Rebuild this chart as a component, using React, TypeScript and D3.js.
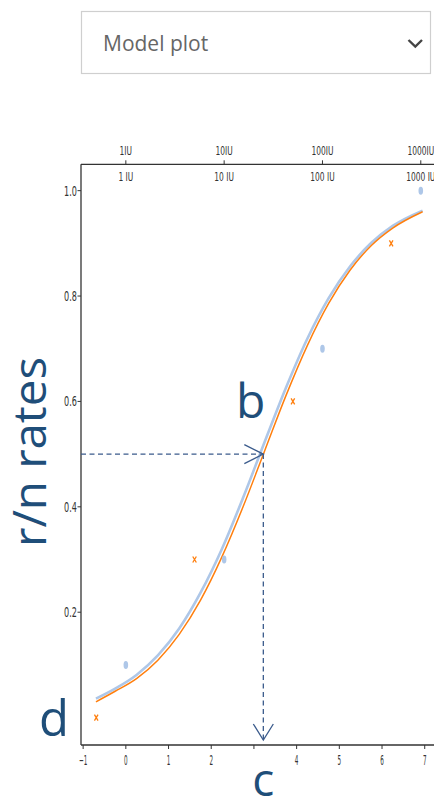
import React from "react";
import * as d3 from "d3";

// Fitted dose-response curves, sampled along ln(dose)
const curveX = [-0.7, -0.25, 0.25, 0.75, 1.25, 1.75, 2.25, 2.75, 3.25, 3.75, 4.25, 4.75, 5.25, 5.75, 6.25, 6.95];
const orangeFit = [0.03, 0.05, 0.074, 0.109, 0.158, 0.223, 0.305, 0.401, 0.506, 0.611, 0.706, 0.786, 0.849, 0.896, 0.929, 0.96];
const blueFit = [0.036, 0.055, 0.081, 0.118, 0.169, 0.237, 0.32, 0.418, 0.523, 0.626, 0.719, 0.796, 0.856, 0.901, 0.933, 0.962];

// Observed response rates (r/n) per dose
const blueDoses = [1, 10, 100, 1000];
const blueRates = [0.1, 0.3, 0.7, 1.0];
const orangeDoses = [0.5, 5, 50, 500];
const orangeRates = [0.0, 0.3, 0.6, 0.9];

// Axes
const xTicks = [-1, 0, 1, 2, 3, 4, 5, 6, 7];
const xTickLabels = ["\u22121", "0", "1", "2", "", "4", "5", "6", "7"];
const yTicks = [0.2, 0.4, 0.6, 0.8, 1.0];
const yTickLabels = ["0.2", "0.4", "0.6", "0.8", "1.0"];
const unitDoses = [1, 10, 100, 1000];
const unitLabelsOuter = ["1IU", "10IU", "100IU", "1000IU"];
const unitLabelsInner = ["1 IU", "10 IU", "100 IU", "1000 IU"];

// Inflection point (c, 50% rate)
const midpointX = 3.22;
const midpointY = 0.5;

const W = 434;
const H = 800;
const ANNOT = "#1f4e79";
const DASH = "#3b5b8c";
const AXIS = "#333";
const TICKFONT = "DejaVu Sans";

export default function App() {
  const x = d3.scaleLinear().domain([-1.05, 7.25]).range([81, 435.4]);
  const y = d3.scaleLinear().domain([-0.052, 1.05]).range([745, 164.3]);

  const line = d3
    .line<number>()
    .x((_, i) => x(curveX[i]))
    .y((v) => y(v))
    .curve(d3.curveMonotoneX);

  const left = x.range()[0];
  const top = y.range()[1];
  const bottom = y.range()[0];
  const mx = x(midpointX);
  const my = y(midpointY);

  return (
    <svg
      width={W}
      height={H}
      style={{ position: "absolute", left: 0, top: 0, background: "#fff" }}
    >
      {/* dropdown */}
      <rect x={81.5} y={11.5} width={349} height={62} fill="#fff" stroke="#cfcfcf" strokeWidth={1.2} />
      <text x={103} y={51} fontFamily="Open Sans" fontSize={21} fill="#666">
        Model plot
      </text>
      <path d="M408.5,40 L415.3,46.5 L422,40" fill="none" stroke="#444" strokeWidth={2.4} />

      {/* spines */}
      <line x1={left} x2={W} y1={top} y2={top} stroke={AXIS} strokeWidth={1.3} />
      <line x1={left} x2={W} y1={bottom} y2={bottom} stroke={AXIS} strokeWidth={1.3} />
      <line x1={left} x2={left} y1={top} y2={bottom} stroke={AXIS} strokeWidth={1.3} />

      {/* bottom axis: ln(dose) */}
      {xTicks.map((t, i) => (
        <g key={"xt" + i}>
          <line x1={x(t)} x2={x(t)} y1={bottom} y2={bottom + 4} stroke={AXIS} strokeWidth={1} />
          <text
            transform={`translate(${x(t)},${bottom + 20}) scale(0.42,1)`}
            textAnchor="middle"
            fontFamily={TICKFONT}
            fontSize={13.5}
            fill="#333"
          >
            {xTickLabels[i]}
          </text>
        </g>
      ))}

      {/* left axis: rate */}
      {yTicks.map((t, i) => (
        <g key={"yt" + i}>
          <line x1={left - 3.5} x2={left} y1={y(t)} y2={y(t)} stroke={AXIS} strokeWidth={1} />
          <text
            transform={`translate(${left - 4},${y(t) + 5}) scale(0.6,1)`}
            textAnchor="end"
            fontFamily={TICKFONT}
            fontSize={13.5}
            fill="#333"
          >
            {yTickLabels[i]}
          </text>
        </g>
      ))}

      {/* top axis: dose in IU */}
      {unitDoses.map((d, i) => {
        const px = x(Math.log(d));
        return (
          <g key={"ut" + i}>
            <line x1={px} x2={px} y1={top} y2={top - 4} stroke={AXIS} strokeWidth={1} />
            <text
              transform={`translate(${px},${top - 9}) scale(0.6,1)`}
              textAnchor="middle"
              fontFamily={TICKFONT}
              fontSize={12.5}
              fill="#333"
            >
              {unitLabelsOuter[i]}
            </text>
            <text
              transform={`translate(${px},${top + 17}) scale(0.6,1)`}
              textAnchor="middle"
              fontFamily={TICKFONT}
              fontSize={12.5}
              fill="#333"
            >
              {unitLabelsInner[i]}
            </text>
          </g>
        );
      })}

      {/* fitted curves */}
      <path d={line(blueFit) || ""} fill="none" stroke="#aec7e8" strokeWidth={2.6} />
      <path d={line(orangeFit) || ""} fill="none" stroke="#ff7f0e" strokeWidth={1.5} />

      {/* observations */}
      {blueDoses.map((d, i) => (
        <ellipse
          key={"b" + i}
          cx={x(Math.log(d))}
          cy={y(blueRates[i])}
          rx={2.3}
          ry={4}
          fill="#aec7e8"
        />
      ))}
      {orangeDoses.map((d, i) => {
        const cx = x(Math.log(d));
        const cy = y(orangeRates[i]);
        return (
          <path
            key={"o" + i}
            d={`M${cx - 1.8},${cy - 3} L${cx + 1.8},${cy + 3} M${cx + 1.8},${cy - 3} L${cx - 1.8},${cy + 3}`}
            stroke="#ff7f0e"
            strokeWidth={1.3}
            fill="none"
          />
        );
      })}

      {/* midpoint guides */}
      <line x1={left} x2={mx} y1={my} y2={my} stroke={DASH} strokeWidth={1.3} strokeDasharray="5,3.5" />
      <path d={`M${mx - 19},${my - 9.5} L${mx},${my} L${mx - 19},${my + 9.5}`} fill="none" stroke={DASH} strokeWidth={1.3} />
      <line x1={mx} x2={mx} y1={my} y2={bottom - 4} stroke={DASH} strokeWidth={1.3} strokeDasharray="5,3.5" />
      <path d={`M${mx - 10},${bottom - 21} L${mx},${bottom - 5} L${mx + 10},${bottom - 21}`} fill="none" stroke={DASH} strokeWidth={1.3} />

      {/* parameter labels */}
      <text x={236} y={418} fontFamily="Open Sans" fontSize={48} fill={ANNOT}>
        b
      </text>
      <text x={39} y={735.5} fontFamily="Open Sans" fontSize={49} fill={ANNOT}>
        d
      </text>
      <text x={mx} y={796} textAnchor="middle" fontFamily="Open Sans" fontSize={46} fill={ANNOT}>
        c
      </text>
      <text
        transform="translate(46,452) rotate(-90)"
        textAnchor="middle"
        fontFamily="Open Sans"
        fontSize={45}
        textLength={190}
        lengthAdjust="spacingAndGlyphs"
        fill={ANNOT}
      >
        r/n rates
      </text>
    </svg>
  );
}
